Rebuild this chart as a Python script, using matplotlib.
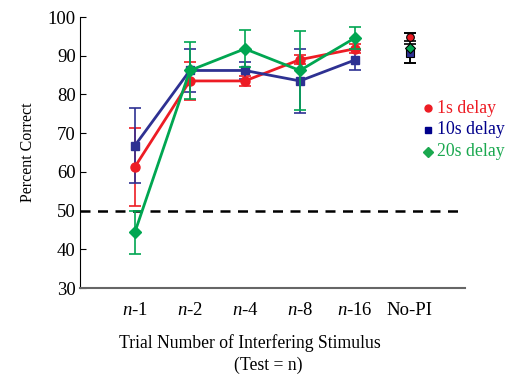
import numpy as np
import matplotlib.pyplot as plt

plt.rcParams['font.family'] = ['Liberation Serif', 'DejaVu Serif']
plt.rcParams['mathtext.fontset'] = 'custom'
plt.rcParams['mathtext.rm'] = 'Liberation Serif'
plt.rcParams['mathtext.it'] = 'Liberation Serif:italic'

# categorías del eje x
categorias = ['n-1', 'n-2', 'n-4', 'n-8', 'n-16']
etiquetas_x = [r'$\it{n}$-1', r'$\it{n}$-2', r'$\it{n}$-4', r'$\it{n}$-8', r'$\it{n}$-16', 'No-PI']

# porcentaje correcto por retardo
delay_1s = [61.3, 83.5, 83.5, 89.0, 91.8]
delay_10s = [66.8, 86.2, 86.2, 83.5, 88.9]
delay_20s = [44.4, 86.2, 91.8, 86.2, 94.6]

# errores
err_1s = [10.0, 4.8, 1.2, 1.2, 1.2]
err_10s = [9.6, 5.6, 2.2, 8.3, 2.6]
err_20s = [5.6, 7.4, 4.8, 10.3, 2.8]

# condición sin interferencia
nopi_1s, nopi_10s, nopi_20s = 94.9, 90.6, 92.0
nopi_err = [1.0, 2.5, 3.8]

rojo = '#ed1c24'
azul = '#2e3192'
verde = '#00a651'

fig = plt.figure(figsize=(5.12, 3.79), dpi=100)
ax = fig.add_axes([0.156, 0.240, 0.752, 0.715])

x = np.arange(1, len(categorias) + 1)

ax.errorbar(x, delay_1s, yerr=err_1s, color=rojo, marker='o', ms=6.5, lw=2,
            capsize=4, elinewidth=1.2, capthick=1.2, zorder=3)
ax.errorbar(x, delay_10s, yerr=err_10s, color=azul, marker='s', ms=6, lw=2,
            capsize=4, elinewidth=1.2, capthick=1.2, zorder=3)
ax.errorbar(x, delay_20s, yerr=err_20s, color=verde, marker='D', ms=6.5, lw=2,
            capsize=4, elinewidth=1.2, capthick=1.2, zorder=4)

# punto No-PI
xn = len(categorias) + 1
for val, err in zip([nopi_1s, nopi_10s, nopi_20s], nopi_err):
    ax.errorbar([xn], [val], yerr=[err], color='black', fmt='none',
                capsize=4, elinewidth=1.2, capthick=1.2, zorder=3)
for val, col, mk in zip([nopi_1s, nopi_10s, nopi_20s], [rojo, azul, verde], ['o', 's', 'D']):
    ax.plot([xn], [val], marker=mk, color=col, mec='black', mew=0.8, ms=5.5, zorder=5)

# línea de azar
ax.axhline(50, color='black', lw=1.8, ls=(0, (4, 3)), zorder=2)

ax.set_xlim(0, 7)
ax.set_ylim(30, 100)
ax.set_yticks(np.arange(30, 101, 10))
ax.set_xticks(np.arange(1, 7))
ax.set_xticklabels(etiquetas_x, fontsize=13.5)
ax.tick_params(axis='x', length=0, pad=10)
ax.tick_params(axis='y', direction='in', labelsize=13.5, length=4, pad=3)

ax.spines['top'].set_visible(False)
ax.spines['right'].set_visible(False)
ax.spines['bottom'].set_color('#666666')
ax.spines['bottom'].set_linewidth(1.5)

ax.set_ylabel('Percent Correct', fontsize=11.5, labelpad=8)
fig.text(0.489, 0.095, 'Trial Number of Interfering Stimulus', fontsize=12.7,
         ha='center', va='center')
fig.text(0.524, 0.037, '(Test = n)', fontsize=12.7, ha='center', va='center')

# leyenda manual
leyenda = [('1s delay', rojo, 'o'), ('10s delay', '#00008b', 's'), ('20s delay', '#1aa84f', 'D')]
for i, (txt, col, mk) in enumerate(leyenda):
    yy = 0.714 - i * 0.057
    fig.add_artist(plt.Line2D([0.836], [yy], marker=mk, color=col, ms=5,
                              transform=fig.transFigure))
    fig.text(0.853, yy, txt, color=col, fontsize=12.8, va='center')

fig.savefig('out.png', dpi=100)
